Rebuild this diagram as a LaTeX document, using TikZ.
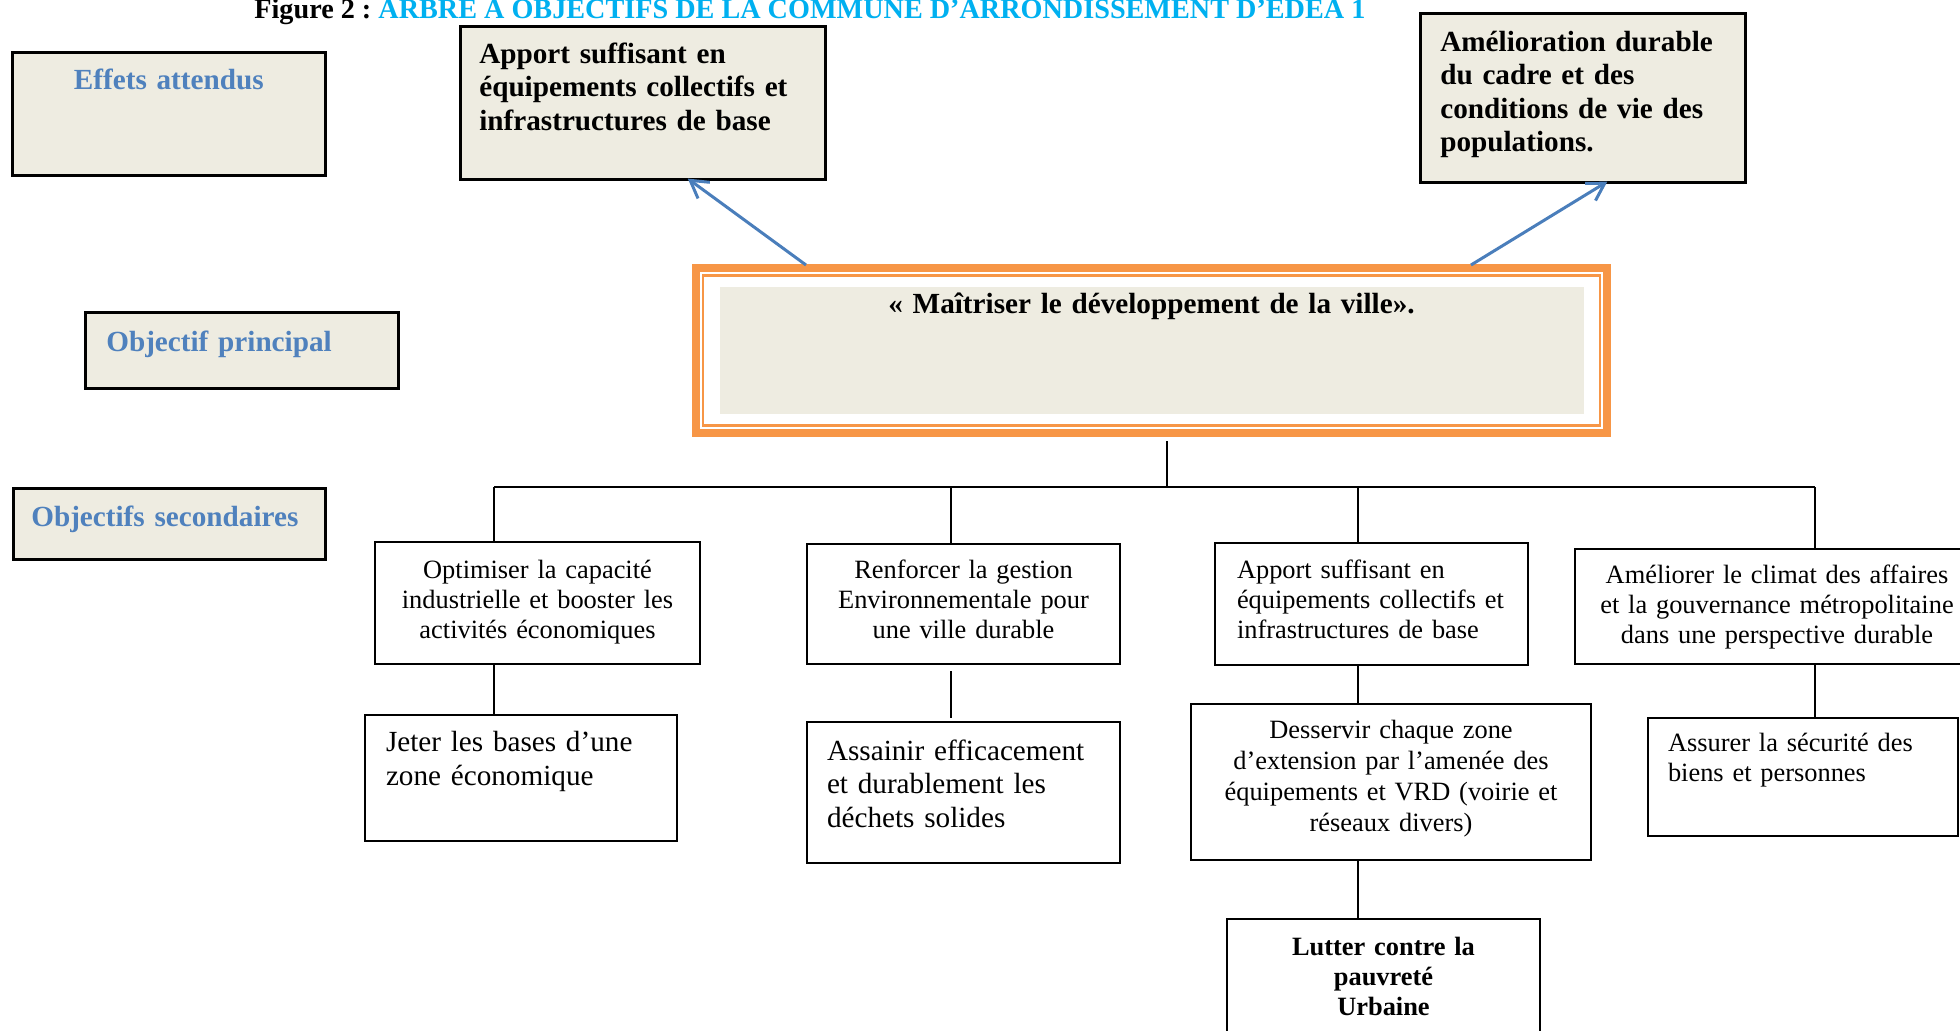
\documentclass[tikz,border=0pt]{standalone}
\usepackage{fontspec}
\setmainfont{Liberation Serif}
\usepackage{tikz}
\frenchspacing
\definecolor{beige}{HTML}{EEECE1}
\definecolor{levelblue}{HTML}{4F81BD}
\definecolor{arrowblue}{HTML}{4A7EBB}
\definecolor{frameorange}{HTML}{F79646}
\definecolor{titleblue}{HTML}{00B0F0}
\tikzset{
    figtitle/.style={anchor=base west,inner sep=0pt,text=titleblue,font=\bfseries\fontsize{14.1pt}{16pt}\selectfont},
    levelbox/.style={rectangle,draw=black,line width=1.3pt,fill=beige,anchor=north west,inner ysep=0pt,text=levelblue,font=\bfseries\fontsize{14.6pt}{17pt}\selectfont},
    effectbox/.style={rectangle,draw=black,line width=1.3pt,fill=beige,anchor=north west,inner ysep=0pt,align=left,font=\bfseries\fontsize{14.6pt}{16.75pt}\selectfont},
    mainframe/.style={rectangle,draw=frameorange,line width=4pt,inner sep=0pt,minimum width=455.5pt,minimum height=82.5pt},
    maintext/.style={rectangle,fill=beige,inner sep=0pt,align=center,font=\bfseries\fontsize{14.6pt}{17pt}\selectfont},
    secbox/.style={rectangle,draw=black,line width=1pt,fill=white,inner ysep=0pt,font=\fontsize{13.2pt}{15.2pt}\selectfont},
    actbox/.style={rectangle,draw=black,line width=1pt,fill=white,inner ysep=0pt,align=left,font=\fontsize{14.6pt}{17pt}\selectfont},
    link/.style={draw=black,line width=1pt},
    goal/.style={draw=arrowblue,line width=1.5pt,->},
}
\usetikzlibrary{positioning,arrows.meta}

\begin{document}
\begin{tikzpicture}[>={Straight Barb[length=8.5pt,width=10pt]},x=0.5pt,y=-0.5pt]
\useasboundingbox (0,0) rectangle (1960,1030);
\node[figtitle](title) at (254,18) {\textcolor{black}{Figure 2 :} ARBRE A OBJECTIFS DE LA COMMUNE D’ARRONDISSEMENT D’EDEA 1};

\node[levelbox,align=center,text width=146.5pt,inner xsep=5pt,text height=18.5pt,text depth=43pt](effets) at (11,51) {Effets attendus};
\node[levelbox,align=left,text width=135.5pt,inner xsep=10.5pt,text height=19.5pt,text depth=18.5pt](principal) at (84,311) {Objectif principal};
\node[levelbox,align=left,text width=138pt,inner xsep=9pt,text height=19pt,text depth=16.5pt](secondaires) at (12,487) {Objectifs secondaires};

\node[effectbox,text width=163.5pt,inner xsep=9.5pt,text height=18.5pt,text depth=58pt](effa) at (459,25) {Apport suffisant en\\équipements collectifs et\\infrastructures de base};
\node[effectbox,text width=142.5pt,inner xsep=10pt,text height=19pt,text depth=65.5pt](effb) at (1419,12) {Amélioration durable\\du cadre et des\\conditions de vie des\\populations.};

\node[mainframe](obj) at (1151.5,350.5) {};
\node[maintext,text width=432pt,text height=13pt,text depth=50.5pt](objtxt) at (obj.center) {«~Maîtriser le développement de la ville».};
\draw[frameorange,line width=1.2pt] ([shift={(-8pt,5.5pt)}]objtxt.north west) rectangle ([shift={(8pt,-5.5pt)}]objtxt.south east);

\draw[goal] ([xshift=-172.75pt,yshift=-0.5pt]obj.north) -- ([xshift=22.5pt,yshift=1pt]effa.south);
\draw[goal] ([xshift=159.75pt,yshift=-0.5pt]obj.north) -- ([xshift=12.25pt,yshift=1pt]effb.south);

\node[secbox,anchor=north west,align=center,text width=152.5pt,inner xsep=5pt,text height=18pt,text depth=43pt](s1) at (374,541) {Optimiser la capacité\\industrielle et booster les\\activités économiques};
\node[secbox,anchor=north west,align=center,text width=146.5pt,inner xsep=5pt,text height=17pt,text depth=43pt](s2) at (806,543) {Renforcer la gestion\\Environnementale pour\\une ville durable};
\node[secbox,anchor=north west,align=left,text width=134.5pt,inner xsep=11pt,text height=17.5pt,text depth=43.5pt](s3) at (1214,542) {Apport suffisant en\\équipements collectifs et\\infrastructures de base};
\node[secbox,anchor=north west,align=center,text width=192pt,inner xsep=5pt,text height=17pt,text depth=40.5pt](s4) at (1574,548) {Améliorer le climat des affaires\\et la gouvernance métropolitaine\\dans une perspective durable};

\node[actbox,text width=135pt,inner xsep=10.5pt,text height=18pt,text depth=45pt](t1) [below=24.5pt of s1,xshift=-8.25pt] {Jeter les bases d’une\\zone économique};
\node[actbox,text width=136.5pt,inner xsep=10pt,text height=19pt,text depth=51.5pt,font=\fontsize{14.6pt}{16.75pt}\selectfont](t2) [below=28pt of s2] {Assainir efficacement\\et durablement les\\déchets solides};
\node[secbox,align=center,text width=190pt,inner xsep=5pt,text height=17pt,text depth=61pt,font=\fontsize{13.2pt}{15.5pt}\selectfont](t3) [below=18.5pt of s3,xshift=9.75pt] {Desservir chaque zone\\d’extension par l’amenée des\\équipements et VRD (voirie et\\réseaux divers)};
\node[secbox,align=left,text width=135pt,inner xsep=10pt,text height=16.5pt,text depth=42.5pt,font=\fontsize{13.2pt}{15pt}\selectfont](t4) [below=26pt of s4,xshift=13pt] {Assurer la sécurité des\\biens et personnes};
\node[secbox,align=center,text width=146.5pt,inner xsep=5pt,text height=18pt,text depth=50pt,font=\bfseries\fontsize{13.2pt}{15pt}\selectfont](u) [below=28.5pt of t3,xshift=-3.75pt] {Lutter contre la\\pauvreté\\Urbaine};

\coordinate (bm) at (1167,487);
\coordinate (b1) at (494,487);
\coordinate (b2) at (951,487);
\coordinate (b3) at (1358,487);
\coordinate (b4) at (1815,487);
\draw[link] ([xshift=7.75pt,yshift=-2pt]obj.south) -- (bm);
\draw[link,line width=1.3pt] (b1) -- (b4);
\draw[link] (b1) -- (b1 |- s1.north);
\draw[link] (b2) -- (b2 |- s2.north);
\draw[link] (b3) -- (b3 |- s3.north);
\draw[link] (b4) -- (b4 |- s4.north);
\draw[link] (b1 |- s1.south) -- (b1 |- t1.north);
\draw[link,shorten <=3pt,shorten >=1.5pt] (b2 |- s2.south) -- (b2 |- t2.north);
\draw[link] (b3 |- s3.south) -- (b3 |- t3.north);
\draw[link] (b3 |- t3.south) -- (b3 |- u.north);
\draw[link] (b4 |- s4.south) -- (b4 |- t4.north);
\end{tikzpicture}
\end{document}
